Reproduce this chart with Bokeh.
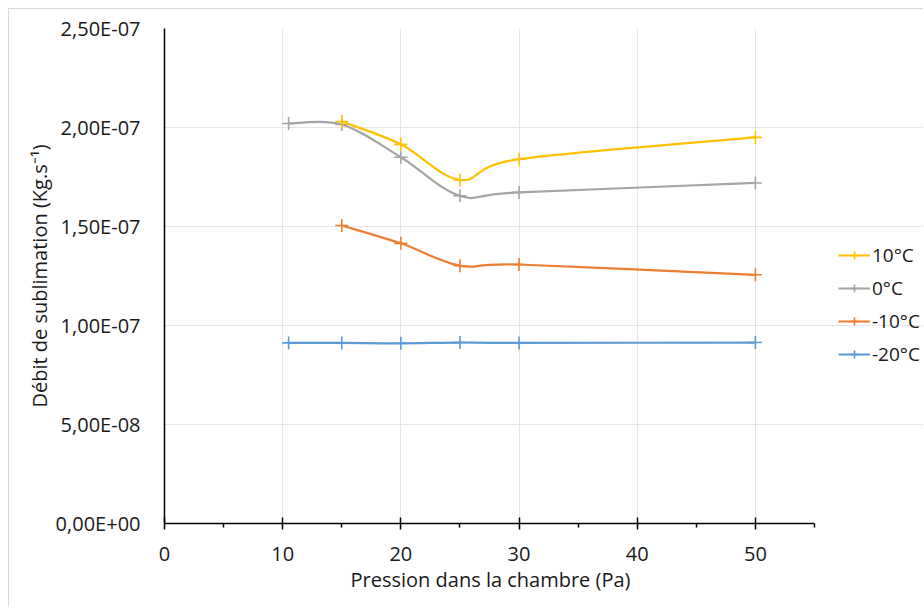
from bokeh.plotting import figure
from bokeh.models import (FixedTicker, CustomJSTickFormatter, Legend, LegendItem,
                          ColumnDataSource, Range1d, Title)
from bokeh.embed import file_html
from bokeh.resources import INLINE

# ---- data ----
series_names = ["10°C", "0°C", "-10°C", "-20°C"]
series_colors = ["#FFC000", "#A5A5A5", "#ED7D31", "#5B9BD5"]

x_10 = [15, 20, 25, 30, 50]
y_10 = [2.03e-7, 1.915e-7, 1.735e-7, 1.84e-7, 1.95e-7]

x_0 = [10.5, 15, 20, 25, 30, 50]
y_0 = [2.02e-7, 2.015e-7, 1.85e-7, 1.655e-7, 1.672e-7, 1.72e-7]

x_m10 = [15, 20, 25, 30, 50]
y_m10 = [1.505e-7, 1.415e-7, 1.302e-7, 1.308e-7, 1.256e-7]

x_m20 = [10.5, 15, 20, 25, 30, 50]
y_m20 = [9.12e-8, 9.12e-8, 9.10e-8, 9.14e-8, 9.12e-8, 9.14e-8]

x_ticks = [0, 10, 20, 30, 40, 50]
x_minor_ticks = [5, 15, 25, 35, 45, 55]
x_axis_max = 55
y_ticks = [0, 5e-8, 1e-7, 1.5e-7, 2e-7, 2.5e-7]
y_tick_labels = ["0,00E+00", "5,00E-08", "1,00E-07", "1,50E-07", "2,00E-07", "2,50E-07"]
x_title = "Pression dans la chambre (Pa)"
y_title = "Débit de sublimation (Kg.s⁻¹)"

FONT = "Open Sans"
TXT = "#1a1a1a"
FS = "20px"

W, H = 915, 599
LEFT, AXIS_W = 155, 650          # axis area in pixels
FRAME_W = W - LEFT               # frame extends to the right edge to host the legend
x_view_max = x_axis_max * FRAME_W / AXIS_W

p = figure(width=W, height=H, output_backend="svg", toolbar_location=None,
           x_range=Range1d(0, x_view_max), y_range=Range1d(0, 2.5e-7),
           min_border_left=LEFT, min_border_right=0, min_border_top=19,
           min_border_bottom=85)
p.min_border_right = 0
p.styles = {"margin-left": "8px", "margin-top": "8px",
            "border-top": "1px solid #d9d9d9", "border-left": "1px solid #d9d9d9"}
p.outline_line_color = None
p.background_fill_color = "white"
p.border_fill_color = "white"

# grid
p.xgrid.ticker = FixedTicker(ticks=x_ticks[1:])
p.ygrid.ticker = FixedTicker(ticks=y_ticks[1:])
p.ygrid.bounds = (0, x_axis_max)
p.xgrid.grid_line_color = "#e5e5e5"
p.ygrid.grid_line_color = "#e5e5e5"
p.xgrid.grid_line_width = 1
p.ygrid.grid_line_width = 1

# x axis
xa = p.xaxis[0]
xa.bounds = (0, x_axis_max)
xa.ticker = FixedTicker(ticks=x_ticks, minor_ticks=x_minor_ticks)
xa.axis_line_color = "black"
xa.axis_line_width = 1.5
xa.major_tick_line_color = "black"
xa.major_tick_line_width = 1.5
xa.major_tick_in = 6
xa.major_tick_out = 6
xa.minor_tick_line_color = "black"
xa.minor_tick_line_width = 1.5
xa.minor_tick_in = 0
xa.minor_tick_out = 4
xa.major_label_text_font = FONT
xa.major_label_text_font_size = FS
xa.major_label_text_color = TXT
xa.major_label_standoff = 17

# x axis title, centred under the 0..55 axis (not the wider frame)
xt = Title(text=x_title, align="left", offset=186, standoff=0,
           text_font=FONT, text_font_size=FS, text_font_style="normal", text_color=TXT)
p.add_layout(xt, "below")

# y axis
ya = p.yaxis[0]
ya.ticker = FixedTicker(ticks=y_ticks, minor_ticks=[])
ya.formatter = CustomJSTickFormatter(args=dict(tvals=y_ticks, tlabels=y_tick_labels), code="""
    for (let i = 0; i < tvals.length; i++) {
        if (Math.abs(tvals[i] - tick) < 1e-12) { return tlabels[i]; }
    }
    return "";
""")
ya.axis_line_color = "black"
ya.axis_line_width = 1.5
ya.major_tick_line_color = None
ya.minor_tick_line_color = None
ya.major_tick_in = 0
ya.major_tick_out = 0
ya.major_label_text_font = FONT
ya.major_label_text_font_size = FS
ya.major_label_text_color = TXT
ya.major_label_standoff = 24
ya.axis_label = y_title
ya.axis_label_text_font = FONT
ya.axis_label_text_font_size = FS
ya.axis_label_text_font_style = "normal"
ya.axis_label_text_color = TXT
ya.axis_label_standoff = 0


def smooth_bezier(xs, ys):
    """Excel-like smoothed line: cubic Bezier segments with Catmull-Rom control points."""
    n = len(xs)
    x0, y0, x1, y1, cx0, cy0, cx1, cy1 = [], [], [], [], [], [], [], []
    for i in range(n - 1):
        xp, yp = (xs[i - 1], ys[i - 1]) if i > 0 else (xs[i], ys[i])
        xn, yn = (xs[i + 2], ys[i + 2]) if i + 2 < n else (xs[i + 1], ys[i + 1])
        x0.append(xs[i]); y0.append(ys[i])
        x1.append(xs[i + 1]); y1.append(ys[i + 1])
        cx0.append(xs[i] + (xs[i + 1] - xp) / 6.0)
        cy0.append(ys[i] + (ys[i + 1] - yp) / 6.0)
        cx1.append(xs[i + 1] - (xn - xs[i]) / 6.0)
        cy1.append(ys[i + 1] - (yn - ys[i]) / 6.0)
    return ColumnDataSource(dict(x0=x0, y0=y0, x1=x1, y1=y1, cx0=cx0, cy0=cy0, cx1=cx1, cy1=cy1))


all_x = [x_10, x_0, x_m10, x_m20]
all_y = [y_10, y_0, y_m10, y_m20]

items = []
renders = {}
# draw in reverse so that 10°C ends up on top
for idx in reversed(range(4)):
    xs, ys, col = all_x[idx], all_y[idx], series_colors[idx]
    src = smooth_bezier(xs, ys)
    p.bezier(x0="x0", y0="y0", x1="x1", y1="y1", cx0="cx0", cy0="cy0", cx1="cx1", cy1="cy1",
             source=src, line_color=col, line_width=2.2)
    sc = p.scatter(xs, ys, marker="cross", size=13, line_color=col, line_width=1.6)
    # legend-only line (NaN point, nothing drawn in the plot)
    ln = p.line([float("nan")], [float("nan")], line_color=col, line_width=2.2)
    renders[idx] = [ln, sc]

for idx in range(4):
    items.append(LegendItem(label=series_names[idx], renderers=renders[idx]))

legend = Legend(items=items, location=(674, 156), orientation="vertical",
                border_line_color=None, background_fill_alpha=0,
                label_text_font=FONT, label_text_font_size="19px", label_text_color=TXT,
                glyph_width=32, glyph_height=20, label_height=20, spacing=7,
                label_standoff=2, padding=0, margin=0)
p.add_layout(legend, "center")

open("out.html", "w").write(file_html(p, INLINE))
